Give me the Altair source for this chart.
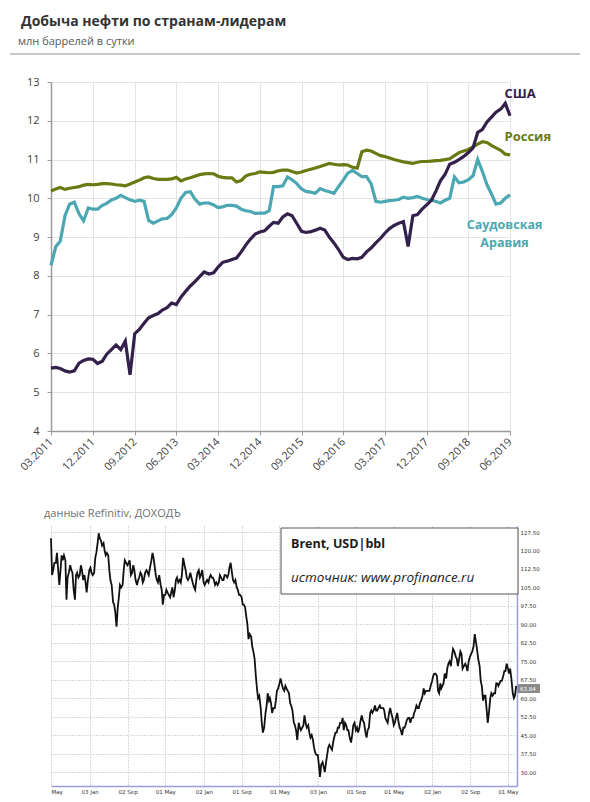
import altair as alt
import pandas as pd

def ms(s):
    return int(pd.Timestamp(s, tz="UTC").value // 10**6)

# ---------------- top chart: oil production, mln bbl/day ----------------
months = pd.date_range("2011-03-01", "2019-06-01", freq="MS").strftime("%Y-%m-%d").tolist()

usa = [5.62, 5.64, 5.61, 5.55, 5.52, 5.55, 5.75, 5.82, 5.86, 5.85,
       5.74, 5.80, 5.98, 6.10, 6.22, 6.10, 6.32, 5.45, 6.51, 6.62,
       6.78, 6.92, 6.98, 7.03, 7.12, 7.18, 7.30, 7.26, 7.45, 7.60,
       7.74, 7.85, 7.98, 8.10, 8.05, 8.08, 8.22, 8.35, 8.38, 8.42,
       8.46, 8.62, 8.80, 8.95, 9.08, 9.13, 9.16, 9.28, 9.38, 9.36,
       9.52, 9.60, 9.55, 9.35, 9.15, 9.12, 9.14, 9.18, 9.23, 9.18,
       9.00, 8.85, 8.68, 8.48, 8.42, 8.45, 8.44, 8.48, 8.62, 8.72,
       8.85, 8.97, 9.10, 9.22, 9.30, 9.36, 9.40, 8.76, 9.55, 9.58,
       9.72, 9.83, 9.95, 10.20, 10.45, 10.62, 10.88, 10.93, 11.00, 11.08,
       11.18, 11.30, 11.70, 11.77, 11.97, 12.10, 12.22, 12.30, 12.45, 12.13]

russia = [10.19, 10.24, 10.28, 10.23, 10.26, 10.28, 10.30, 10.34, 10.36, 10.35,
          10.36, 10.38, 10.38, 10.37, 10.35, 10.34, 10.32, 10.37, 10.42, 10.47,
          10.53, 10.55, 10.51, 10.49, 10.49, 10.49, 10.50, 10.54, 10.45, 10.50,
          10.53, 10.57, 10.61, 10.63, 10.64, 10.63, 10.57, 10.54, 10.53, 10.53,
          10.42, 10.46, 10.58, 10.62, 10.64, 10.68, 10.67, 10.66, 10.67, 10.71,
          10.73, 10.73, 10.69, 10.65, 10.68, 10.72, 10.75, 10.78, 10.82, 10.86,
          10.90, 10.88, 10.86, 10.87, 10.86, 10.80, 10.78, 11.20, 11.24, 11.22,
          11.16, 11.10, 11.08, 11.04, 11.00, 10.97, 10.94, 10.92, 10.90, 10.93,
          10.95, 10.95, 10.96, 10.97, 10.98, 11.00, 11.02, 11.10, 11.18, 11.22,
          11.26, 11.33, 11.40, 11.46, 11.44, 11.36, 11.30, 11.24, 11.14, 11.12]

saudi = [8.27, 8.75, 8.90, 9.55, 9.85, 9.90, 9.60, 9.42, 9.75, 9.72,
         9.72, 9.82, 9.87, 9.96, 10.00, 10.08, 10.02, 9.96, 9.92, 9.95,
         9.92, 9.43, 9.36, 9.42, 9.47, 9.48, 9.58, 9.75, 10.00, 10.15,
         10.17, 9.98, 9.85, 9.88, 9.88, 9.83, 9.76, 9.78, 9.82, 9.82,
         9.80, 9.72, 9.68, 9.66, 9.61, 9.62, 9.62, 9.68, 10.30, 10.30,
         10.32, 10.55, 10.48, 10.38, 10.24, 10.18, 10.16, 10.13, 10.25, 10.20,
         10.17, 10.13, 10.30, 10.47, 10.65, 10.72, 10.64, 10.56, 10.56, 10.38,
         9.92, 9.90, 9.92, 9.94, 9.95, 9.97, 10.03, 10.00, 10.02, 10.05,
         10.00, 9.97, 9.95, 9.92, 9.88, 9.95, 10.00, 10.55, 10.40, 10.42,
         10.48, 10.58, 11.00, 10.70, 10.35, 10.10, 9.85, 9.88, 10.00, 10.09]

series_names = ["Саудовская Аравия", "Россия", "США"]
series_colors = ["#4ba7b2", "#687b12", "#33204b"]

top_ticks = ["2011-03-01", "2011-12-01", "2012-09-01", "2013-06-01", "2014-03-01",
             "2014-12-01", "2015-09-01", "2016-06-01", "2017-03-01", "2017-12-01",
             "2018-09-01", "2019-06-01"]

label_texts = ["США", "Россия"]
label_values = [12.68, 11.58]
label_date = "2019-04-26"
saudi_lines = ["Саудовская", "Аравия"]
saudi_values = [9.30, 8.85]

rows = []
for name, vals in zip(series_names, [saudi, russia, usa]):
    for d, v in zip(months, vals):
        rows.append({"date": d, "value": v, "country": name})
df_top = pd.DataFrame(rows)

W1, H1 = 459, 349
x_scale_top = alt.Scale(type="utc", domain=[ms("2011-03-01"), ms("2019-06-01")])
y_scale_top = alt.Scale(domain=[4, 13], nice=False, zero=False)
x_axis_top = alt.Axis(values=[ms(t) for t in top_ticks], format="%m.%Y",
                      labelAngle=315, labelAlign="right", labelBaseline="middle",
                      labelPadding=5, tickSize=4, tickColor="#9a9a9a",
                      domainColor="#9a9a9a", domainWidth=1.5, gridColor="#e4e4e4",
                      labelColor="#404040", labelFontSize=11, labelFont="Open Sans",
                      labelOverlap=False, title=None)
y_axis_top = alt.Axis(values=list(range(4, 14)), tickSize=4, tickColor="#9a9a9a",
                      domainColor="#9a9a9a", domainWidth=1.5, gridColor="#e4e4e4",
                      labelColor="#404040", labelFontSize=11, labelFont="Open Sans",
                      labelPadding=8, labelOverlap=False, title=None)
x_top = alt.X("date:T", scale=x_scale_top, axis=x_axis_top)
y_top = alt.Y("value:Q", scale=y_scale_top, axis=y_axis_top)
color_top = alt.Color("country:N", scale=alt.Scale(domain=series_names, range=series_colors),
                      legend=None)

lines = alt.Chart(df_top).mark_line(strokeWidth=3.2).encode(x=x_top, y=y_top, color=color_top)

lab_df = pd.DataFrame({"date": [label_date] * 2, "value": label_values, "text": label_texts,
                       "country": ["США", "Россия"]})
labels_left = alt.Chart(lab_df).mark_text(align="left", baseline="middle", fontWeight="bold",
                                          fontSize=13, font="Open Sans").encode(
    x=x_top, y=y_top, text="text:N", color=color_top)
sa_df = pd.DataFrame({"date": [label_date] * 2, "value": saudi_values, "text": saudi_lines})
labels_sa = alt.Chart(sa_df).mark_text(align="center", baseline="middle", fontWeight="bold",
                                       fontSize=12.5, font="Open Sans",
                                       color=series_colors[0]).encode(
    x=x_top, y=y_top, text="text:N")

one = pd.DataFrame({"k": [0]})
title_top = alt.Chart(one).mark_text(align="left", baseline="middle", fontSize=14,
                                     fontWeight="bold", font="Open Sans", color="#333333").encode(
    x=alt.value(-30), y=alt.value(-60), text=alt.value("Добыча нефти по странам-лидерам"))
subtitle_top = alt.Chart(one).mark_text(align="left", baseline="middle", fontSize=11,
                                        font="Open Sans", color="#595959").encode(
    x=alt.value(-33), y=alt.value(-40), text=alt.value("млн баррелей в сутки"))
separator = alt.Chart(one).mark_rect(fill="#c8c8c8").encode(
    x=alt.value(-41), x2=alt.value(529), y=alt.value(-29), y2=alt.value(-27))

top = alt.layer(lines, labels_left, labels_sa, title_top, subtitle_top, separator).properties(
    width=W1, height=H1)

# ---------------- bottom chart: Brent, USD/bbl ----------------
brent_months = pd.date_range("2011-05-01", "2019-06-01", freq="MS")
brent_days = [1, 8, 15, 23]
brent_values = [
    125, 110, 112, 115,  # 2011-05
    115, 119, 113, 106,  # 2011-06
    112, 118, 116, 118,  # 2011-07
    116, 100, 109, 111,  # 2011-08
    114, 112, 111, 104,  # 2011-09
    100, 110, 111, 109,  # 2011-10
    110, 114, 112, 108,  # 2011-11
    110, 107, 103, 108,  # 2011-12
    112, 113, 111, 110,  # 2012-01
    111, 117, 119, 123,  # 2012-02
    127, 125, 124, 122,  # 2012-03
    123, 120, 118, 119,  # 2012-04
    118, 112, 108, 106,  # 2012-05
    99, 98, 95, 89,      # 2012-06
    97, 101, 106, 105,   # 2012-07
    106, 112, 116, 115,  # 2012-08
    114, 115, 116, 110,  # 2012-09
    111, 114, 112, 108,  # 2012-10
    106, 108, 109, 111,  # 2012-11
    110, 107, 108, 111,  # 2012-12
    112, 111, 110, 113,  # 2013-01
    116, 119, 117, 113,  # 2013-02
    110, 108, 107, 110,  # 2013-03
    106, 104, 98, 102,   # 2013-04
    102, 104, 103, 102,  # 2013-05
    101, 103, 105, 101,  # 2013-06
    104, 108, 109, 107,  # 2013-07
    108, 107, 110, 117,  # 2013-08
    114, 112, 109, 108,  # 2013-09
    109, 111, 109, 107,  # 2013-10
    105, 104, 108, 111,  # 2013-11
    112, 109, 110, 112,  # 2013-12
    107, 106, 107, 108,  # 2014-01
    107, 109, 110, 109,  # 2014-02
    109, 108, 106, 107,  # 2014-03
    106, 107, 110, 109,  # 2014-04
    108, 108, 110, 110,  # 2014-05
    109, 110, 113, 115,  # 2014-06
    111, 108, 107, 108,  # 2014-07
    105, 104, 102, 102,  # 2014-08
    101, 98, 98, 97,     # 2014-09
    93, 90, 84, 86,      # 2014-10
    85, 81, 79, 76,      # 2014-11
    69, 64, 60, 61,      # 2014-12
    56, 50, 46, 48,      # 2015-01
    54, 57, 62, 59,      # 2015-02
    60, 58, 54, 56,      # 2015-03
    56, 59, 63, 64,      # 2015-04
    66, 68, 66, 64,      # 2015-05
    63, 65, 64, 63,      # 2015-06
    62, 58, 57, 55,      # 2015-07
    50, 49, 47, 43,      # 2015-08
    50, 48, 47, 48,      # 2015-09
    49, 53, 50, 48,      # 2015-10
    49, 46, 44, 45,      # 2015-11
    43, 40, 38, 37,      # 2015-12
    37, 33, 28, 33,      # 2016-01
    34, 32, 30, 34,      # 2016-02
    37, 40, 41, 40,      # 2016-03
    39, 42, 44, 46,      # 2016-04
    46, 48, 48, 50,      # 2016-05
    50, 52, 47, 50,      # 2016-06
    49, 47, 47, 44,      # 2016-07
    42, 45, 49, 50,      # 2016-08
    47, 48, 46, 48,      # 2016-09
    51, 53, 51, 50,      # 2016-10
    46, 44, 47, 48,      # 2016-11
    54, 55, 54, 55,      # 2016-12
    57, 55, 55, 56,      # 2017-01
    57, 56, 56, 56,      # 2017-02
    55, 52, 51, 50,      # 2017-03
    54, 56, 54, 52,      # 2017-04
    49, 50, 52, 54,      # 2017-05
    50, 48, 47, 45,      # 2017-06
    48, 48, 49, 51,      # 2017-07
    52, 52, 50, 52,      # 2017-08
    52, 54, 55, 57,      # 2017-09
    56, 56, 58, 59,      # 2017-10
    61, 64, 62, 63,      # 2017-11
    63, 63, 63, 65,      # 2017-12
    67, 69, 70, 70,      # 2018-01
    69, 63, 62, 66,      # 2018-02
    64, 65, 66, 70,      # 2018-03
    68, 72, 74, 75,      # 2018-04
    73, 77, 80, 79,      # 2018-05
    77, 76, 73, 76,      # 2018-06
    79, 78, 72, 73,      # 2018-07
    74, 73, 71, 75,      # 2018-08
    77, 78, 79, 81,      # 2018-09
    86, 83, 80, 76,      # 2018-10
    73, 67, 65, 59,      # 2018-11
    61, 61, 56, 50,      # 2018-12
    55, 60, 62, 61,      # 2019-01
    62, 62, 66, 66,      # 2019-02
    65, 66, 67, 67,      # 2019-03
    69, 71, 71, 74,      # 2019-04
    72, 70, 72, 68,      # 2019-05
    62, 60, 61, 65,      # 2019-06
]
brent_dates = [(m + pd.Timedelta(days=d - 1)).strftime("%Y-%m-%d")
               for m in brent_months for d in brent_days]
assert len(brent_dates) == len(brent_values)
df_brent = pd.DataFrame({"date": brent_dates, "price": brent_values})

bottom_ticks = ["2011-05-01", "2012-01-03", "2012-09-02", "2013-05-01", "2014-01-02",
                "2014-09-01", "2015-05-01", "2016-01-03", "2016-09-01", "2017-05-01",
                "2018-01-02", "2018-09-02", "2019-05-01"]
price_ticks = [30 + 7.5 * i for i in range(14)]
last_price = "63.84"

W2, H2 = 466, 260
x_b = alt.X("date:T",
            scale=alt.Scale(type="utc", domain=[ms("2011-05-01"), ms("2019-06-28")]),
            axis=alt.Axis(values=[ms(t) for t in bottom_ticks],
                          labelExpr="datum.index == 0 ? 'May' : utcFormat(datum.value, '%d %b')",
                          labelFlush=3, ticks=False, domainColor="#9c9ce0", domainWidth=1.5,
                          gridDash=[1, 2], gridColor="#b5b5b5", labelColor="#333333",
                          labelFontSize=5.5, labelFont="DejaVu Sans", labelPadding=3,
                          labelOverlap=False, title=None))
y_b = alt.Y("price:Q",
            scale=alt.Scale(domain=[24.33, 129.94], nice=False, zero=False),
            axis=alt.Axis(orient="right", values=price_ticks, format=".2f", ticks=False,
                          domainColor="#9c9ce0", domainWidth=1.5, gridDash=[1, 2],
                          gridColor="#b5b5b5", labelColor="#333333", labelFontSize=5.5,
                          labelFont="DejaVu Sans", labelPadding=3, labelOverlap=False,
                          title=None))

brent_line = alt.Chart(df_brent).mark_line(color="#111111", strokeWidth=1.8).encode(
    x=x_b, y=y_b)

title_b = alt.Chart(one).mark_text(align="left", baseline="middle", fontSize=11,
                                   font="Open Sans", color="#707070").encode(
    x=alt.value(-7), y=alt.value(-12), text=alt.value("данные Refinitiv, ДОХОДЪ"))
box = alt.Chart(one).mark_rect(fill="white", stroke="#555555", strokeWidth=1).encode(
    x=alt.value(230), x2=alt.value(467), y=alt.value(2), y2=alt.value(68))
box_t1 = alt.Chart(one).mark_text(align="left", baseline="middle", fontSize=12.5,
                                  fontWeight="bold", font="Open Sans", color="#1a1a1a").encode(
    x=alt.value(240), y=alt.value(18), text=alt.value("Brent, USD|bbl"))
box_t2 = alt.Chart(one).mark_text(align="left", baseline="middle", fontSize=13.5,
                                  fontStyle="italic", font="Open Sans", color="#1a1a1a").encode(
    x=alt.value(240), y=alt.value(52), text=alt.value("источник: www.profinance.ru"))
tag = alt.Chart(one).mark_rect(fill="#8a8a8a").encode(
    x=alt.value(467), x2=alt.value(489), y=alt.value(158), y2=alt.value(167))
tag_t = alt.Chart(one).mark_text(align="left", baseline="middle", fontSize=5.5,
                                 font="DejaVu Sans", color="white").encode(
    x=alt.value(469), y=alt.value(162.5), text=alt.value(last_price))

bottom = alt.layer(brent_line, title_b, box, box_t1, box_t2, tag, tag_t).properties(
    width=W2, height=H2)

chart = alt.vconcat(top, bottom, spacing=95, bounds="flush").properties(
    padding={"left": 2, "top": 7, "right": 0, "bottom": 0}
).configure_view(stroke=None)

chart.save("out.html", embed_options={"renderer": "svg", "actions": False})
